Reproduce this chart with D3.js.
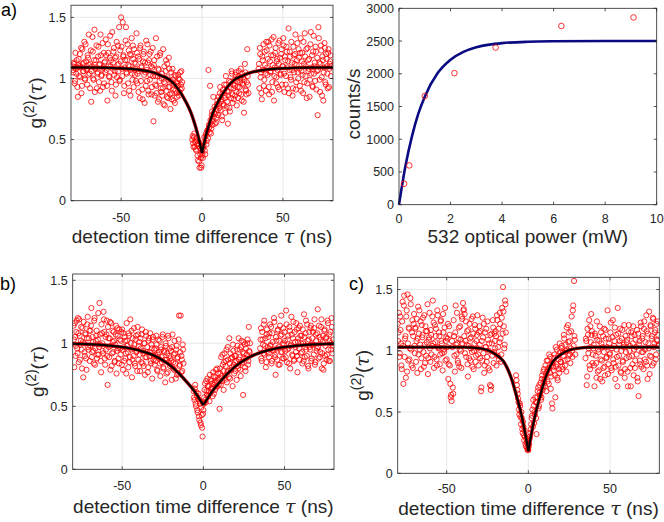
<!DOCTYPE html>
<html>
<head>
<meta charset="utf-8">
<script src="https://cdn.jsdelivr.net/npm/d3@7"></script>
<style>
  body { margin: 0; background: #fff; }
  svg { display: block; font-family: "Liberation Sans", Arial, sans-serif; }
</style>
</head>
<body>
<svg id="fig" width="664" height="522"></svg>
<script>
// time bins of the correlation histograms (ns): two interleaved sets, 0.5 ns apart each
const tauEven = d3.range(-80, 80.01, 0.5);   // 321 bins
const tauOdd = d3.range(-79.75, 80, 0.5);    // 320 bins
const _ = null; // bins removed from the measurement

// g2 values, panel a (one row = 10 ns)
const g2A = [
  1.10,1.05,1.12,0.98,1.08,1.15,0.93,1.11,1.02,1.20,1.09,0.88,1.24,1.06,1.13,1.00,1.28,1.07,0.95,1.17,
  1.36,1.04,1.12,0.81,1.10,1.22,0.99,1.40,1.08,1.15,0.92,1.05,1.26,1.11,0.90,1.19,1.03,1.29,1.09,0.96,
  1.14,1.32,1.07,0.82,1.21,1.02,1.17,1.10,0.97,1.38,1.13,1.25,1.06,0.86,1.18,1.01,1.27,1.12,0.98,1.23,
  1.50,1.08,1.46,1.19,0.94,1.15,1.42,1.04,1.28,1.11,0.90,1.20,1.07,1.33,0.99,1.16,1.24,1.03,1.12,1.37,
  0.96,1.18,1.06,0.84,1.27,1.09,0.91,1.14,1.22,0.80,1.05,1.31,0.98,1.13,0.87,1.20,1.03,1.10,0.93,1.25,
  0.65,1.15,0.95,1.33,0.88,1.02,1.08,0.83,1.19,0.92,1.00,0.86,1.24,0.97,0.78,1.06,0.90,1.12,0.84,1.17,
  0.93,0.75,1.05,0.88,0.99,0.82,1.03,0.90,0.97,0.85,0.94,1.00,0.89,1.05,0.95,0.92,_,_,_,_,
  _,_,_,_,_,_,_,_,0.50,0.47,0.52,0.44,0.49,0.41,0.46,0.33,0.45,0.27,0.38,0.27,
  0.40,0.35,0.45,0.52,0.38,0.55,0.49,0.58,1.07,0.60,0.94,0.55,0.70,0.62,0.85,0.72,0.63,0.75,0.68,0.82,
  0.70,0.79,0.88,0.74,0.83,0.66,0.91,0.78,0.86,0.72,0.95,0.81,0.63,0.89,0.76,0.97,0.84,1.04,0.80,0.92,
  0.99,0.86,1.05,0.78,0.93,1.02,0.88,0.97,1.08,0.82,0.96,1.01,0.72,1.12,0.91,0.87,1.24,0.95,_,_,
  _,_,_,_,_,_,_,_,_,_,1.08,0.92,1.20,1.05,0.83,1.15,1.28,0.99,1.11,0.90,
  1.23,1.03,1.30,0.87,1.14,1.06,1.32,0.97,1.19,0.82,1.09,1.25,1.01,1.16,0.93,1.12,1.31,1.04,1.20,0.95,
  1.10,1.27,0.89,1.15,1.02,1.22,0.92,1.41,1.07,1.18,0.99,1.13,0.86,1.26,1.05,1.20,0.91,1.11,1.29,1.00,
  1.17,0.94,1.33,1.06,1.21,0.88,1.12,1.37,1.02,1.24,0.96,1.15,1.08,0.85,1.28,1.04,1.19,0.93,1.35,1.10,
  0.98,1.22,1.06,0.70,1.42,1.13,0.89,1.27,1.01,1.18,0.82,1.09,1.25,0.95,1.16,1.04,1.21,0.93,1.12,1.19,1.10
];
const g2AOdd = [
  1.07,1.13,0.96,1.21,1.04,1.09,0.85,1.16,1.10,1.01,1.25,0.94,1.12,1.06,1.30,0.99,1.14,1.08,1.19,1.03,
  1.11,0.92,1.23,1.06,1.34,1.00,1.15,0.89,1.09,1.27,1.04,1.18,0.97,1.12,1.36,1.02,1.08,0.93,1.21,1.13,
  1.05,1.19,0.94,1.28,1.10,1.01,1.35,1.15,0.90,1.08,1.22,1.03,1.17,0.95,1.30,1.11,1.06,1.42,0.99,1.14,
  1.26,1.02,1.18,0.88,1.09,1.31,1.05,1.15,0.96,1.23,1.10,0.86,1.19,1.04,1.27,0.93,1.13,1.08,0.98,1.21,
  1.04,0.89,1.16,1.25,0.98,1.10,0.83,1.20,1.03,1.13,0.94,1.07,1.28,0.90,1.15,0.99,1.22,0.87,1.09,1.02,
  1.11,0.86,1.02,0.94,1.18,0.81,1.07,0.98,1.21,0.89,1.04,0.92,0.79,1.10,0.96,1.15,0.85,1.01,0.93,1.08,
  0.87,0.98,0.83,1.08,0.91,0.95,0.80,1.02,0.88,0.96,1.03,0.86,0.99,0.91,1.06,0.97,_,_,_,_,
  _,_,_,_,_,_,_,_,0.53,0.44,0.55,0.48,0.42,0.51,0.37,0.47,0.32,0.43,0.35,0.29,
  0.37,0.43,0.48,0.41,0.53,0.46,0.57,0.51,0.62,0.56,0.66,0.59,0.73,0.65,0.69,0.77,0.71,0.64,0.79,0.74,
  0.85,0.76,0.93,0.81,0.69,0.88,0.79,0.95,0.84,1.02,0.77,0.90,0.86,0.98,0.73,0.92,1.06,0.87,0.95,0.83,
  0.94,1.03,0.89,0.98,0.84,1.06,0.93,1.00,0.87,1.04,0.95,0.81,0.99,1.05,0.90,0.97,1.02,0.88,_,_,
  _,_,_,_,_,_,_,_,_,_,1.12,1.25,1.01,0.88,1.18,1.07,0.94,1.22,1.04,1.30,
  1.09,1.16,0.93,1.27,1.05,1.19,0.89,1.11,1.34,1.02,1.21,0.96,1.14,1.07,1.29,0.91,1.17,1.03,1.24,1.10,
  1.33,1.04,1.18,0.95,1.26,1.09,1.14,0.88,1.22,1.01,1.30,1.07,0.92,1.19,1.12,1.36,0.97,1.15,1.05,1.24,
  1.08,1.21,0.90,1.14,1.03,1.30,0.97,1.18,1.10,0.84,1.25,1.06,1.16,0.99,1.38,1.09,0.94,1.22,1.04,1.13,
  1.26,0.91,1.17,1.07,1.33,0.99,1.12,1.23,0.86,1.15,1.05,1.29,0.97,1.20,1.10,0.92,1.24,1.08,1.14,1.02
];

// g2 values, panel b
const g2B = [
  1.14,0.81,1.05,0.98,1.18,0.92,1.08,1.19,0.87,1.02,0.95,1.12,0.73,1.00,0.90,1.07,0.79,1.15,0.97,1.04,
  0.86,1.10,1.28,0.93,1.01,0.84,1.20,0.96,1.06,0.88,1.03,0.91,1.32,0.99,0.77,1.08,0.94,1.25,1.09,0.83,
  0.95,1.18,0.67,1.04,0.89,1.17,0.98,0.82,1.10,0.93,1.02,0.86,1.07,0.76,1.12,0.96,0.84,1.03,0.91,1.09,
  1.11,0.79,0.97,1.05,0.88,0.76,1.02,0.93,1.08,0.85,1.19,0.95,0.73,1.04,0.90,0.99,0.82,1.06,0.94,1.13,
  0.87,1.01,0.78,0.96,1.07,0.84,0.92,1.00,0.75,1.09,0.89,0.97,0.81,1.04,0.93,0.86,0.99,0.72,1.05,0.90,
  0.83,0.96,1.06,0.79,0.91,0.88,1.02,0.74,0.95,0.85,1.07,0.80,0.93,0.69,0.98,0.87,0.77,1.04,0.90,0.82,
  0.94,0.71,1.07,0.85,0.79,0.92,0.72,0.98,0.88,0.76,1.22,0.83,1.22,0.90,0.78,0.95,_,_,_,_,
  _,_,_,_,_,_,_,_,0.62,0.55,0.67,0.50,0.58,0.45,0.60,0.39,0.52,0.35,0.43,0.26,
  0.47,0.57,0.68,0.53,0.62,0.72,0.58,0.66,0.75,0.61,0.70,0.64,0.77,0.60,0.69,0.73,0.65,0.80,0.71,0.67,
  0.48,0.76,0.89,0.70,0.83,0.63,0.92,0.74,0.86,0.69,0.97,0.78,1.04,0.72,0.88,0.81,0.66,0.94,0.76,0.85,
  0.90,0.71,0.98,0.80,0.87,0.95,0.74,1.02,0.84,0.59,0.92,0.99,0.78,0.88,1.00,0.83,1.13,0.93,_,_,
  _,_,_,_,_,_,_,_,_,_,0.96,1.12,0.86,1.03,0.92,1.18,0.98,0.81,1.07,0.94,
  1.05,0.89,1.15,0.99,0.84,1.08,0.95,1.20,0.91,0.75,1.02,0.87,1.11,0.97,0.83,1.06,1.22,0.93,1.00,0.88,
  1.09,0.94,1.26,0.85,1.03,0.96,1.13,0.80,0.99,1.07,0.90,1.17,0.87,1.01,0.93,1.11,0.77,1.04,0.96,1.14,
  0.92,1.06,0.84,1.00,1.23,0.89,1.08,0.95,1.15,0.82,1.03,0.97,1.12,0.86,0.99,1.09,0.91,1.19,0.85,1.02,
  0.96,1.27,0.88,1.05,0.93,1.13,0.80,1.01,0.79,1.10,0.90,1.04,0.87,1.18,0.95,1.07,0.86,1.00,1.20,0.92,1.03
];
const g2BOdd = [
  1.03,1.16,0.90,1.09,0.96,1.20,0.85,1.06,0.99,1.13,0.80,1.01,1.17,0.93,1.08,0.88,1.04,1.21,0.95,1.10,
  0.98,1.14,0.89,1.05,0.94,1.18,0.83,1.02,1.10,0.91,1.24,0.97,1.07,0.86,1.15,1.00,0.92,1.19,0.88,1.05,
  1.07,0.90,1.13,0.97,1.04,0.79,1.16,0.92,1.01,1.09,0.85,0.99,1.14,0.94,1.06,0.88,1.11,0.96,1.02,0.83,
  0.95,1.08,0.86,1.02,0.92,1.16,0.98,0.81,1.06,0.89,1.00,1.10,0.87,0.96,1.12,0.84,1.03,0.93,0.78,1.07,
  0.98,0.91,1.04,0.85,1.11,0.94,0.82,1.00,0.89,1.06,0.93,0.77,1.02,0.90,1.08,0.84,0.96,1.03,0.87,0.95,
  0.91,0.86,0.99,0.78,1.03,0.93,0.84,0.97,0.89,1.05,0.81,0.94,0.87,1.00,0.76,0.92,1.06,0.85,0.96,0.88,
  0.86,0.97,0.80,0.91,1.02,0.84,0.95,0.75,0.89,1.03,0.82,0.93,0.77,0.87,0.99,0.84,_,_,_,_,
  _,_,_,_,_,_,_,_,0.57,0.64,0.52,0.61,0.47,0.56,0.42,0.54,0.37,0.49,0.33,0.44,
  0.52,0.63,0.55,0.70,0.59,0.66,0.62,0.54,0.71,0.64,0.68,0.58,0.74,0.67,0.63,0.79,0.70,0.66,0.76,0.72,
  0.80,0.67,0.74,0.91,0.78,0.85,0.71,0.82,0.95,0.77,0.87,0.73,0.84,0.92,0.79,0.89,0.99,0.83,0.90,0.78,
  0.86,0.95,0.82,1.04,0.89,0.79,0.97,0.85,0.93,1.01,0.88,0.81,0.96,0.91,1.03,0.86,0.94,1.00,_,_,
  _,_,_,_,_,_,_,_,_,_,1.03,0.88,1.09,0.99,1.15,0.91,1.04,0.85,1.11,0.97,
  0.92,1.08,0.98,1.13,0.86,1.01,0.94,1.17,0.89,1.05,0.96,1.10,0.83,1.02,1.14,0.93,1.07,0.88,1.12,0.99,
  1.02,0.89,1.15,0.95,1.06,0.84,1.10,0.98,1.21,0.91,1.04,0.86,1.09,0.97,1.16,0.90,1.01,1.12,0.87,1.06,
  1.00,0.93,1.11,0.86,1.05,0.97,1.18,0.90,1.02,0.80,1.09,0.95,1.14,0.88,1.04,0.99,1.12,0.83,1.07,0.94,
  1.08,0.97,1.14,0.89,1.03,1.19,0.92,1.06,0.84,1.11,0.98,1.05,0.91,1.16,0.86,1.02,1.09,0.95,1.13,0.98
];

// g2 values, panel c
const g2C = [
  1.22,1.15,0.95,1.28,1.06,0.85,1.40,0.73,1.45,1.10,0.78,1.33,1.46,0.92,1.18,1.02,1.38,0.88,1.25,1.12,
  1.30,0.98,1.19,1.08,0.82,1.36,1.14,1.01,1.24,0.94,1.11,1.27,0.87,1.05,1.20,0.96,1.16,0.81,1.09,1.31,
  0.91,1.13,1.04,1.41,1.23,0.95,1.07,1.18,0.88,1.29,1.02,1.12,0.97,1.25,1.06,0.84,1.15,0.99,1.35,1.08,
  0.93,1.10,0.77,1.20,0.88,0.62,0.59,1.03,0.65,1.12,0.83,1.37,0.97,1.06,0.90,1.19,1.01,1.09,0.86,1.26,
  1.39,1.34,1.30,1.08,0.95,1.16,0.79,1.04,1.22,0.92,1.11,0.99,1.28,0.85,1.06,1.18,0.96,1.13,1.02,0.88,
  1.20,0.94,0.67,1.08,1.27,0.98,0.82,1.15,1.03,0.91,1.24,0.86,1.06,0.72,0.68,1.14,0.96,1.19,0.99,1.08,
  1.16,0.88,1.25,1.03,0.93,1.31,1.10,0.97,1.35,1.52,1.20,1.05,1.38,_,_,_,_,_,_,_,
  _,_,_,_,_,0.80,0.72,0.65,0.58,0.48,0.55,0.40,0.45,0.33,0.38,0.27,0.30,0.22,0.25,0.19,
  0.19,0.24,0.30,0.36,0.45,0.52,0.60,0.41,0.48,0.58,0.32,0.62,0.70,0.55,0.66,0.74,0.62,0.80,0.71,0.85,
  0.77,0.88,0.67,0.83,0.92,0.73,0.86,0.95,0.79,0.57,0.90,0.84,0.97,0.62,0.87,1.01,0.76,0.93,0.82,0.99,
  0.91,1.04,0.85,0.96,1.10,0.88,1.00,1.19,0.93,1.07,1.15,0.97,1.02,1.28,0.95,1.37,1.57,1.09,_,_,
  _,_,_,_,_,_,_,_,_,_,0.94,1.08,0.79,1.13,1.02,0.88,1.20,1.30,1.16,0.97,
  1.05,0.71,1.12,0.90,1.24,0.83,0.99,1.08,0.77,1.15,0.92,1.03,0.86,1.18,0.80,1.10,0.95,1.33,0.89,1.06,
  0.98,1.23,0.84,1.11,0.93,1.04,1.19,0.87,1.01,0.71,1.14,0.96,1.08,0.83,1.00,1.17,0.91,1.05,0.78,1.12,
  0.94,1.09,0.71,1.21,1.00,0.86,1.15,0.96,1.06,0.80,1.13,0.92,1.03,1.17,0.75,0.63,1.08,0.89,1.20,0.99,
  1.12,0.85,1.24,1.01,0.91,1.16,0.77,1.06,1.32,0.96,1.20,1.10,0.88,1.26,1.03,1.15,0.93,1.22,1.08,1.13,1.05
];
const g2COdd = [
  1.08,1.31,0.98,1.17,0.88,1.24,1.04,1.37,0.95,1.12,1.28,0.83,1.06,1.19,0.93,1.43,1.01,1.15,0.86,1.22,
  1.04,1.18,0.91,1.26,1.10,0.97,1.33,1.05,0.85,1.21,1.13,0.99,1.29,0.90,1.16,1.07,1.38,0.94,1.11,1.02,
  1.17,0.97,1.28,1.06,0.86,1.21,1.12,0.93,1.33,1.03,1.15,0.89,1.24,1.08,0.98,1.30,1.01,1.19,0.92,1.11,
  1.03,1.22,0.89,1.13,0.73,0.64,1.08,0.70,1.25,0.96,1.15,1.05,1.31,0.92,1.10,0.87,1.20,1.00,1.28,1.06,
  1.33,1.12,0.98,1.24,1.05,0.89,1.17,0.94,1.10,1.02,1.26,0.87,1.14,1.00,1.21,0.91,1.08,1.29,0.97,1.15,
  1.05,1.16,0.70,0.92,1.11,1.22,0.88,1.03,1.18,0.95,1.09,1.00,0.84,1.13,0.71,1.06,1.25,0.90,1.14,1.02,
  1.12,1.29,0.96,1.18,1.07,1.22,0.91,1.27,1.14,1.32,1.02,1.41,1.15,_,_,_,_,_,_,_,
  _,_,_,_,_,0.76,0.68,0.61,0.52,0.57,0.46,0.50,0.36,0.42,0.31,0.35,0.24,0.28,0.21,0.20,
  0.22,0.28,0.33,0.40,0.47,0.38,0.55,0.50,0.62,0.45,0.58,0.67,0.53,0.72,0.64,0.60,0.77,0.68,0.83,0.75,
  0.71,0.81,0.92,0.75,0.86,0.97,0.82,0.69,0.90,0.53,0.87,0.94,0.80,1.03,0.89,0.78,0.96,0.85,1.06,0.91,
  1.02,0.87,0.99,1.13,0.92,1.05,0.83,1.01,1.21,0.96,1.08,0.90,1.16,1.00,1.33,1.04,1.12,0.97,_,_,
  _,_,_,_,_,_,_,_,_,_,1.10,0.72,1.18,0.98,1.25,0.85,1.07,1.13,0.90,1.02,
  0.88,1.14,0.96,0.78,1.09,1.01,0.84,1.20,0.93,1.06,0.75,1.12,0.99,0.87,1.17,0.94,1.03,0.81,1.10,0.97,
  1.15,0.86,1.02,1.25,0.90,1.08,0.77,1.13,0.95,1.35,0.88,1.05,1.18,0.82,1.10,0.92,1.03,1.21,0.85,0.99,
  1.07,0.83,1.16,0.95,1.04,0.71,1.12,0.89,1.20,1.01,0.86,1.09,0.97,0.78,1.14,1.05,0.92,1.23,0.87,1.10,
  0.99,1.18,0.93,1.07,1.29,0.88,1.14,1.02,0.81,1.21,0.95,1.12,1.27,0.90,1.06,1.17,0.97,1.09,1.24,1.04
];

// fitted curves
const fitTau = [-81,-70,-60,-50,-40,-30,-25,-20,-15,-10,-7,-5,-3,-2,-1,0,1,2,3,5,7,10,15,20,25,30,40,50,60,70,81];
const fitA = [1.09,1.09,1.089,1.083,1.073,1.048,1.022,0.99,0.918,0.81,0.726,0.65,0.56,0.51,0.452,0.39,
              0.452,0.51,0.56,0.65,0.726,0.81,0.918,0.99,1.022,1.048,1.073,1.083,1.089,1.09,1.09];
const fitB = [0.997,0.993,0.985,0.97,0.945,0.90,0.865,0.82,0.76,0.69,0.645,0.61,0.57,0.55,0.53,0.51,
              0.53,0.55,0.57,0.61,0.645,0.69,0.76,0.82,0.865,0.90,0.945,0.97,0.985,0.993,0.997];
const fitC = [1.03,1.03,1.03,1.03,1.03,1.02,1.005,0.97,0.91,0.76,0.62,0.52,0.40,0.33,0.26,0.18,
              0.26,0.33,0.40,0.52,0.62,0.76,0.91,0.97,1.005,1.02,1.03,1.03,1.03,1.03,1.03];

// saturation measurement
const powerMw = [0.2, 0.4, 1.0, 2.15, 3.75, 6.3, 9.1];
const countsPerS = [320, 600, 1660, 2010, 2400, 2730, 2860];
const fitPower = [0, 0.25, 0.5, 0.75, 1, 1.5, 2, 2.5, 3, 3.5, 4, 5, 6, 8, 10];
const fitCounts = [0, 590, 1040, 1390, 1650, 2010, 2215, 2335, 2405, 2445, 2468, 2489, 2496, 2500, 2500];

const axisColor = '#262626';
const svg = d3.select('#fig');
svg.append('rect').attr('width', 664).attr('height', 522).attr('fill', '#fff');

// light grid behind the data
const drawGrid = (x, y, xTicks, yTicks) => {
  const [x0, x1] = x.range(), [y0, y1] = y.range();
  const g = svg.append('g');
  g.selectAll('.gx').data(xTicks).enter().append('line')
    .attr('x1', d => x(d)).attr('x2', d => x(d)).attr('y1', y0).attr('y2', y1)
    .attr('stroke', '#e3e3e3').attr('stroke-width', 0.8);
  g.selectAll('.gy').data(yTicks).enter().append('line')
    .attr('y1', d => y(d)).attr('y2', d => y(d)).attr('x1', x0).attr('x2', x1)
    .attr('stroke', '#e3e3e3').attr('stroke-width', 0.8);
};

// MATLAB-like box: ticks on all sides pointing in, labels left/bottom
const drawFrame = (x, y, xTicks, yTicks, opt) => {
  const [x0, x1] = x.range(), [y0, y1] = y.range();
  const g = svg.append('g');
  const tl = 3;
  xTicks.forEach(t => {
    g.append('line').attr('x1', x(t)).attr('x2', x(t)).attr('y1', y0).attr('y2', y0 - tl);
    g.append('line').attr('x1', x(t)).attr('x2', x(t)).attr('y1', y1).attr('y2', y1 + tl);
    g.append('text').attr('x', x(t)).attr('y', y0 + opt.xLabelGap)
      .attr('text-anchor', 'middle').attr('fill', axisColor).style('font-size', '12.5px')
      .text(String(t));
  });
  yTicks.forEach(t => {
    g.append('line').attr('y1', y(t)).attr('y2', y(t)).attr('x1', x0).attr('x2', x0 + tl);
    g.append('line').attr('y1', y(t)).attr('y2', y(t)).attr('x1', x1).attr('x2', x1 - tl);
    g.append('text').attr('x', x0 - 5).attr('y', y(t)).attr('dy', '0.36em')
      .attr('text-anchor', 'end').attr('fill', axisColor).style('font-size', '12.5px')
      .text(String(t));
  });
  g.selectAll('line').attr('stroke', axisColor).attr('stroke-width', 0.8);
  g.append('rect').attr('x', x0).attr('y', y1).attr('width', x1 - x0).attr('height', y0 - y1)
    .attr('fill', 'none').attr('stroke', axisColor).attr('stroke-width', 0.8);
};

const tauLabel = (x, y) => {
  const t = svg.append('text').attr('x', x).attr('y', y).attr('text-anchor', 'middle')
    .attr('fill', axisColor).style('font-size', '19px');
  t.append('tspan').text('detection time difference ');
  t.append('tspan').style('font-family', '"DejaVu Serif", serif').style('font-style', 'italic').text('τ');
  t.append('tspan').text(' (ns)');
};

const g2Label = (x, y) => {
  const t = svg.append('text').attr('transform', `translate(${x},${y}) rotate(-90)`)
    .attr('text-anchor', 'middle').attr('fill', axisColor).style('font-size', '19px');
  t.append('tspan').text('g');
  t.append('tspan').attr('dy', -8).style('font-size', '14px').text('(2)');
  t.append('tspan').attr('dy', 8).text('(');
  t.append('tspan').style('font-family', '"DejaVu Serif", serif').style('font-style', 'italic').text('τ');
  t.append('tspan').text(')');
};

let clipId = 0;
const g2Panel = (p) => {
  const x = d3.scaleLinear().domain(p.xDomain).range([p.left, p.right]);
  const y = d3.scaleLinear().domain([0, p.yMax]).range([p.bottom, p.top]);
  const xTicks = [-50, 0, 50], yTicks = [0, 0.5, 1, 1.5];
  drawGrid(x, y, xTicks, yTicks);

  const id = 'clip' + (clipId++);
  svg.append('clipPath').attr('id', id).append('rect')
    .attr('x', p.left).attr('y', p.top).attr('width', p.right - p.left).attr('height', p.bottom - p.top);
  const plot = svg.append('g').attr('clip-path', `url(#${id})`);

  const pts = tauEven.map((t, i) => ({t: t, v: p.even[i]}))
    .concat(tauOdd.map((t, i) => ({t: t, v: p.odd[i]})))
    .filter(d => d.v !== null);
  plot.selectAll('circle').data(pts).enter().append('circle')
    .attr('cx', d => x(d.t)).attr('cy', d => y(d.v)).attr('r', 2.6)
    .attr('fill', 'none').attr('stroke', '#ff0000').attr('stroke-width', 0.8);

  const fit = fitTau.map((t, i) => ({t: t, v: p.fit[i]}));
  const line = d3.line().x(d => x(d.t)).y(d => y(d.v)).curve(d3.curveMonotoneX);
  const halves = [fit.filter(d => d.t <= 0), fit.filter(d => d.t >= 0)];
  halves.forEach(h => {
    plot.append('path').datum(h).attr('d', line).attr('fill', 'none')
      .attr('stroke', '#c00000').attr('stroke-width', 3.4);
  });
  halves.forEach(h => {
    plot.append('path').datum(h).attr('d', line).attr('fill', 'none')
      .attr('stroke', '#000').attr('stroke-width', 2);
  });

  drawFrame(x, y, xTicks, yTicks, {xLabelGap: p.tickGap});
  tauLabel((p.left + p.right) / 2, p.xLabelY);
  g2Label(p.left - 29, (p.top + p.bottom) / 2);
  svg.append('text').attr('x', p.tagX).attr('y', p.tagY).style('font-size', '18px')
    .attr('fill', '#000').text(p.tag);
};

g2Panel({even: g2A, odd: g2AOdd, fit: fitA, left: 71, right: 333, top: 5.2, bottom: 200.7,
  xDomain: [-81, 81], yMax: 1.6, tickGap: 21, xLabelY: 243, tag: 'a)', tagX: 1, tagY: 16});
g2Panel({even: g2B, odd: g2BOdd, fit: fitB, left: 72.7, right: 334, top: 274, bottom: 469.3,
  xDomain: [-80.5, 80.5], yMax: 1.55, tickGap: 21, xLabelY: 513, tag: 'b)', tagX: 0, tagY: 290});
g2Panel({even: g2C, odd: g2COdd, fit: fitC, left: 397.7, right: 659.3, top: 277.3, bottom: 473.3,
  xDomain: [-80, 80.2], yMax: 1.6, tickGap: 20, xLabelY: 515, tag: 'c)', tagX: 349, tagY: 290});

// saturation curve panel
{
  const x = d3.scaleLinear().domain([0, 10]).range([399, 656.7]);
  const y = d3.scaleLinear().domain([0, 3000]).range([204.7, 8.3]);
  const xTicks = [0, 2, 4, 6, 8, 10], yTicks = [0, 500, 1000, 1500, 2000, 2500, 3000];

  const line = d3.line().x((d, i) => x(fitPower[i])).y(d => y(d)).curve(d3.curveMonotoneX);
  svg.append('path').datum(fitCounts).attr('d', line).attr('fill', 'none')
    .attr('stroke', '#0a0a82').attr('stroke-width', 2.6);

  svg.append('g').selectAll('circle').data(powerMw).enter().append('circle')
    .attr('cx', d => x(d)).attr('cy', (d, i) => y(countsPerS[i])).attr('r', 2.8)
    .attr('fill', 'none').attr('stroke', '#ff0000').attr('stroke-width', 0.8);

  drawFrame(x, y, xTicks, yTicks, {xLabelGap: 18});

  svg.append('text').attr('x', (399 + 656.7) / 2).attr('y', 243).attr('text-anchor', 'middle')
    .attr('fill', axisColor).style('font-size', '19px').text('532 optical power (mW)');
  svg.append('text').attr('transform', 'translate(360,104) rotate(-90)').attr('text-anchor', 'middle')
    .attr('fill', axisColor).style('font-size', '19px').text('counts/s');
}
</script>
</body>
</html>
